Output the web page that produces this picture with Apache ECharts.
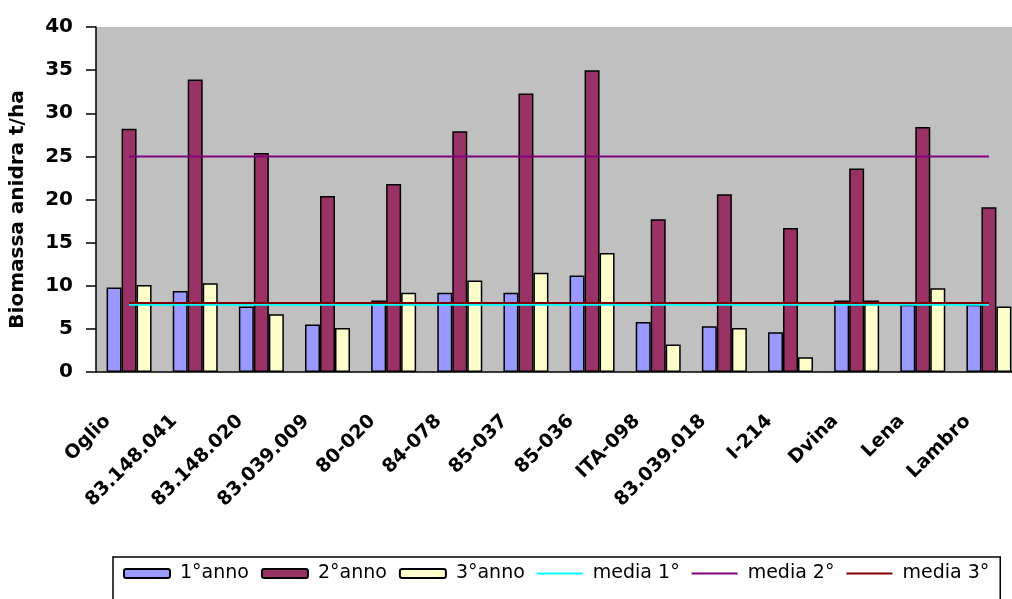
<!DOCTYPE html>
<html>
<head>
<meta charset="utf-8">
<script src="https://cdn.jsdelivr.net/npm/echarts@6/dist/echarts.min.js"></script>
<style>
  html, body { margin: 0; padding: 0; background: #fff; }
  #chart { width: 1012px; height: 599px; }
</style>
</head>
<body>
<div id="chart"></div>
<script>
const categorie = ['Oglio', '83.148.041', '83.148.020', '83.039.009', '80-020', '84-078', '85-037',
  '85-036', 'ITA-098', '83.039.018', 'I-214', 'Dvina', 'Lena', 'Lambro']
const anno1 = [9.8, 9.4, 7.6, 5.5, 8.3, 9.2, 9.2, 11.2, 5.8, 5.3, 4.6, 8.3, 7.8, 7.8]
const anno2 = [28.2, 33.9, 25.4, 20.4, 21.8, 27.9, 32.3, 35.0, 17.7, 20.6, 16.7, 23.6, 28.4, 19.1]
const anno3 = [10.1, 10.3, 6.7, 5.1, 9.2, 10.6, 11.5, 13.8, 3.2, 5.1, 1.7, 8.3, 9.7, 7.6]
const media1 = 7.8
const media2 = 25.0
const media3 = 8.0

const font = 'DejaVu Sans'
const lineIcon = 'path://M0,0 L46,0 L46,2 L0,2 Z'
const chart = echarts.init(document.getElementById('chart'))

const barSerie = (name, data, color) => ({
  name, type: 'bar', data, xAxisIndex: 0,
  barGap: 0, barCategoryGap: '32%',
  itemStyle: { color, borderColor: '#000', borderWidth: 1.5 },
})
const lineSerie = (name, value, color) => ({
  name, type: 'line', data: categorie.map(() => value), symbol: 'none', xAxisIndex: 0,
  lineStyle: { color, width: 2 }, itemStyle: { color },
})

chart.setOption({
  animation: false,
  grid: {
    left: 96, width: 926, top: 27, bottom: 227,
    outerBoundsMode: 'none', containLabel: false,
    show: true, backgroundColor: '#c0c0c0', borderWidth: 0,
  },
  legend: {
    left: 113, top: 557,
    padding: [7, 11, 20, 10],
    borderColor: '#000', borderWidth: 1.5,
    itemWidth: 46, itemHeight: 9, itemGap: 12,
    textStyle: { fontFamily: font, fontSize: 19, color: '#000', padding: [0, 0, 0, 5] },
    data: [
      '1°anno', '2°anno', '3°anno',
      { name: 'media 1°', icon: lineIcon },
      { name: 'media 2°', icon: lineIcon },
      { name: 'media 3°', icon: lineIcon },
    ],
  },
  xAxis: [
    {
      type: 'category', data: categorie, position: 'bottom',
      axisLine: { lineStyle: { color: '#000', width: 1.5 } },
      axisTick: { length: 10, lineStyle: { color: '#000', width: 1.5 } },
      axisLabel: {
        rotate: 45, margin: 25, interval: 0,
        fontFamily: font, fontWeight: 'bold', fontSize: 19, color: '#000',
        formatter: (v) => v + '{s|}',
        rich: { s: { width: 30 } },
      },
    },
    {
      type: 'category', data: categorie, position: 'bottom',
      axisLine: { show: false },
      axisTick: { inside: true, length: 10, lineStyle: { color: '#000', width: 1.5 } },
      axisLabel: { show: false },
    },
  ],
  yAxis: {
    type: 'value', min: 0, max: 40, interval: 5,
    name: 'Biomassa anidra t/ha', nameLocation: 'middle', nameGap: 68,
    nameTextStyle: { fontFamily: font, fontWeight: 'bold', fontSize: 20, color: '#000', padding: [0, 20, 0, 0] },
    axisLine: { show: true, lineStyle: { color: '#000', width: 1.5 } },
    axisTick: { show: true, length: 10, lineStyle: { color: '#000', width: 1.5 } },
    axisLabel: { margin: 23, fontFamily: font, fontWeight: 'bold', fontSize: 20, color: '#000' },
    splitLine: { show: false },
  },
  series: [
    barSerie('1°anno', anno1, '#9999ff'),
    barSerie('2°anno', anno2, '#993366'),
    barSerie('3°anno', anno3, '#ffffcc'),
    lineSerie('media 1°', media1, '#00ffff'),
    lineSerie('media 2°', media2, '#800080'),
    lineSerie('media 3°', media3, '#800000'),
  ],
})
</script>
</body>
</html>
